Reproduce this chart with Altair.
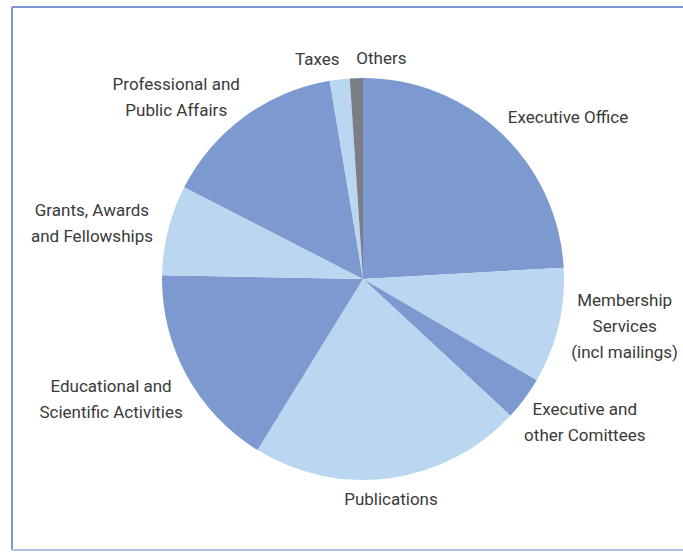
import math
import altair as alt
import pandas as pd

# ---- data ----
categories = [
    "Executive Office",
    "Membership Services (incl mailings)",
    "Executive and other Comittees",
    "Publications",
    "Educational and Scientific Activities",
    "Grants, Awards and Fellowships",
    "Professional and Public Affairs",
    "Taxes",
    "Others",
]
labels = [
    "Executive Office",
    "Membership\nServices\n(incl mailings)",
    "Executive and\nother Comittees",
    "Publications",
    "Educational and\nScientific Activities",
    "Grants, Awards\nand Fellowships",
    "Professional and\nPublic Affairs",
    "Taxes",
    "Others",
]
values = [24.1, 9.3, 3.5, 21.9, 16.5, 7.25, 14.8, 1.6, 1.05]

# ---- styles / layout ----
colors = ["#7c9ad0", "#bbd6f0", "#7c9ad0", "#bbd6f0", "#7c9ad0",
          "#bbd6f0", "#7c9ad0", "#bbd6f0", "#7b7e86"]
label_nudges = [(47, 6), (38, -6), (37, 7), (-3, -7), (-50, 11),
                (-48, 1), (-51, 5), (-19, 9), (26, 10)]

CX, CY, R = 363, 279, 201
LABEL_R = 230
LINE_H = 26
total = sum(values)

df = pd.DataFrame({
    "idx": list(range(len(categories))),
    "category": categories,
    "label": labels,
    "value": values,
})

theta_scale = alt.Scale(domain=[0, total], range=[0, 2 * math.pi])

pie = alt.Chart(df).mark_arc(outerRadius=R, stroke=None).encode(
    theta=alt.Theta("value:Q", stack=True, scale=theta_scale),
    order=alt.Order("idx:Q"),
    color=alt.Color("category:N", scale=alt.Scale(domain=categories, range=colors), legend=None),
    x=alt.value(CX),
    y=alt.value(CY),
)

text_layers = []
for lab, (dx, dy) in zip(labels, label_nudges):
    n_lines = lab.count("\n") + 1
    t = (
        alt.Chart(df)
        .transform_window(cum="sum(value)", sort=[alt.SortField("idx")])
        .transform_calculate(mid="datum.cum - datum.value / 2")
        .transform_filter(alt.datum.label == lab)
        .mark_text(
            font="Roboto",
            fontSize=17,
            color="#3a3a3a",
            lineBreak="\n",
            lineHeight=LINE_H,
            align="center",
            baseline="middle",
            dx=dx,
            dy=dy - (n_lines - 1) * LINE_H / 2,
        )
        .encode(
            theta=alt.Theta("mid:Q", stack=None, scale=theta_scale),
            radius=alt.value(LABEL_R),
            x=alt.value(CX),
            y=alt.value(CY),
            text="label:N",
        )
    )
    text_layers.append(t)

frame_left = alt.Chart(df).mark_rule(color="#7a95cf", strokeWidth=2).encode(
    x=alt.value(12), y=alt.value(7), y2=alt.value(550))
frame_top = alt.Chart(df).mark_rule(color="#7a95cf", strokeWidth=2).encode(
    x=alt.value(12), x2=alt.value(700), y=alt.value(7))
frame_bottom = alt.Chart(df).mark_rule(color="#b4c0dc", strokeWidth=2).encode(
    x=alt.value(12), x2=alt.value(700), y=alt.value(550))

chart = alt.layer(pie, *text_layers, frame_left, frame_top, frame_bottom).properties(
    width=683,
    height=552,
    autosize=alt.AutoSizeParams(type="none"),
    padding=0,
    background="white",
).configure_view(stroke=None)

chart.save("out.html", embed_options={"renderer": "svg", "actions": False})
